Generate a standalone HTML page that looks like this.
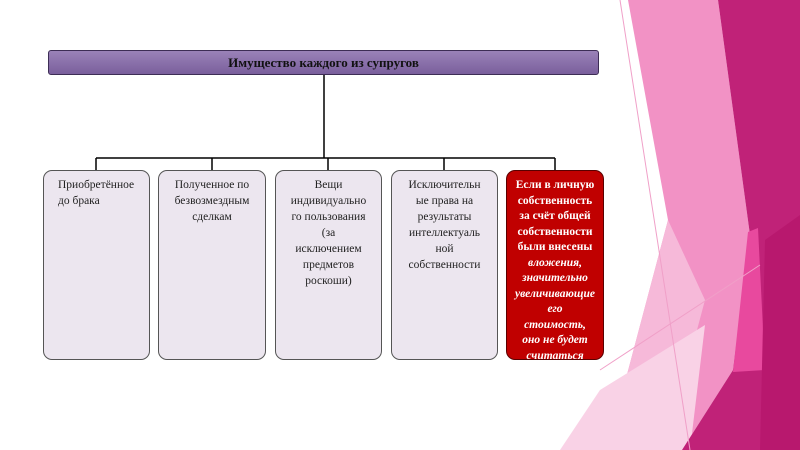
<!DOCTYPE html>
<html><head><meta charset="utf-8"><style>
body{margin:0;width:800px;height:450px;overflow:hidden;background:#fff;position:relative;font-family:"Liberation Serif",serif}
.top{position:absolute;left:48px;top:50px;width:551px;height:25px;background:linear-gradient(#9a82b8,#7a5f9c);border:1px solid #3d2d55;border-radius:3px;box-sizing:border-box;text-align:center;font-weight:bold;font-size:13px;line-height:23px;color:#111}
.b{position:absolute;top:170px;height:190px;border:1px solid #555;border-radius:9px;box-sizing:border-box;background:#ece6ef;text-align:center;font-size:11.5px;line-height:16px;padding-top:6px;color:#222;overflow:hidden}
.r{background:#c00000;color:#fff;font-weight:bold;border-color:#5a0000;line-height:15.5px;font-size:11.5px;padding-top:7px}
.r i{font-weight:bold}
</style></head><body>
<svg width="800" height="450" style="position:absolute;left:0;top:0">
<polygon points="628,0 718,0 750,235 733,370 682,450 607,450 668,220" fill="#f292c5"/>
<polygon points="668,220 705,300 665,450 607,450" fill="#f6b9d9"/>
<polygon points="600,390 705,325 690,450 560,450" fill="#f9d2e6"/>
<polygon points="718,0 800,0 800,450 682,450 733,370 750,235" fill="#c02278"/>
<polygon points="748,232 758,228 765,370 733,372" fill="#e8499e"/>
<polygon points="765,240 800,215 800,450 760,450" fill="#b8186e"/>
<line x1="620" y1="0" x2="690" y2="450" stroke="#f0a0c8" stroke-width="1"/>
<line x1="600" y1="370" x2="760" y2="265" stroke="#f0a0c8" stroke-width="1"/>
<g stroke="#000" stroke-width="1.5" fill="none">
<line x1="324" y1="75" x2="324" y2="158"/>
<line x1="96" y1="158" x2="555" y2="158"/>
<line x1="96" y1="158" x2="96" y2="170"/>
<line x1="212" y1="158" x2="212" y2="170"/>
<line x1="328" y1="158" x2="328" y2="170"/>
<line x1="444" y1="158" x2="444" y2="170"/>
<line x1="555" y1="158" x2="555" y2="170"/>
</g></svg>
<div class="top">Имущество каждого из супругов</div>
<div class="b" style="left:43px;width:107px;text-align:left;padding-left:14px">Приобретённое<br>до брака</div>
<div class="b" style="left:158px;width:108px">Полученное по<br>безвозмездным<br>сделкам</div>
<div class="b" style="left:275px;width:107px">Вещи<br>индивидуально<br>го пользования<br>(за<br>исключением<br>предметов<br>роскоши)</div>
<div class="b" style="left:391px;width:107px">Исключительн<br>ые права на<br>результаты<br>интеллектуаль<br>ной<br>собственности</div>
<div class="b r" style="left:506px;width:98px">Если в личную<br>собственность<br>за счёт общей<br>собственности<br>были внесены<br><i>вложения,<br>значительно<br>увеличивающие<br>его<br>стоимость,<br>оно не будет<br>считаться</i></div>
</body></html>
